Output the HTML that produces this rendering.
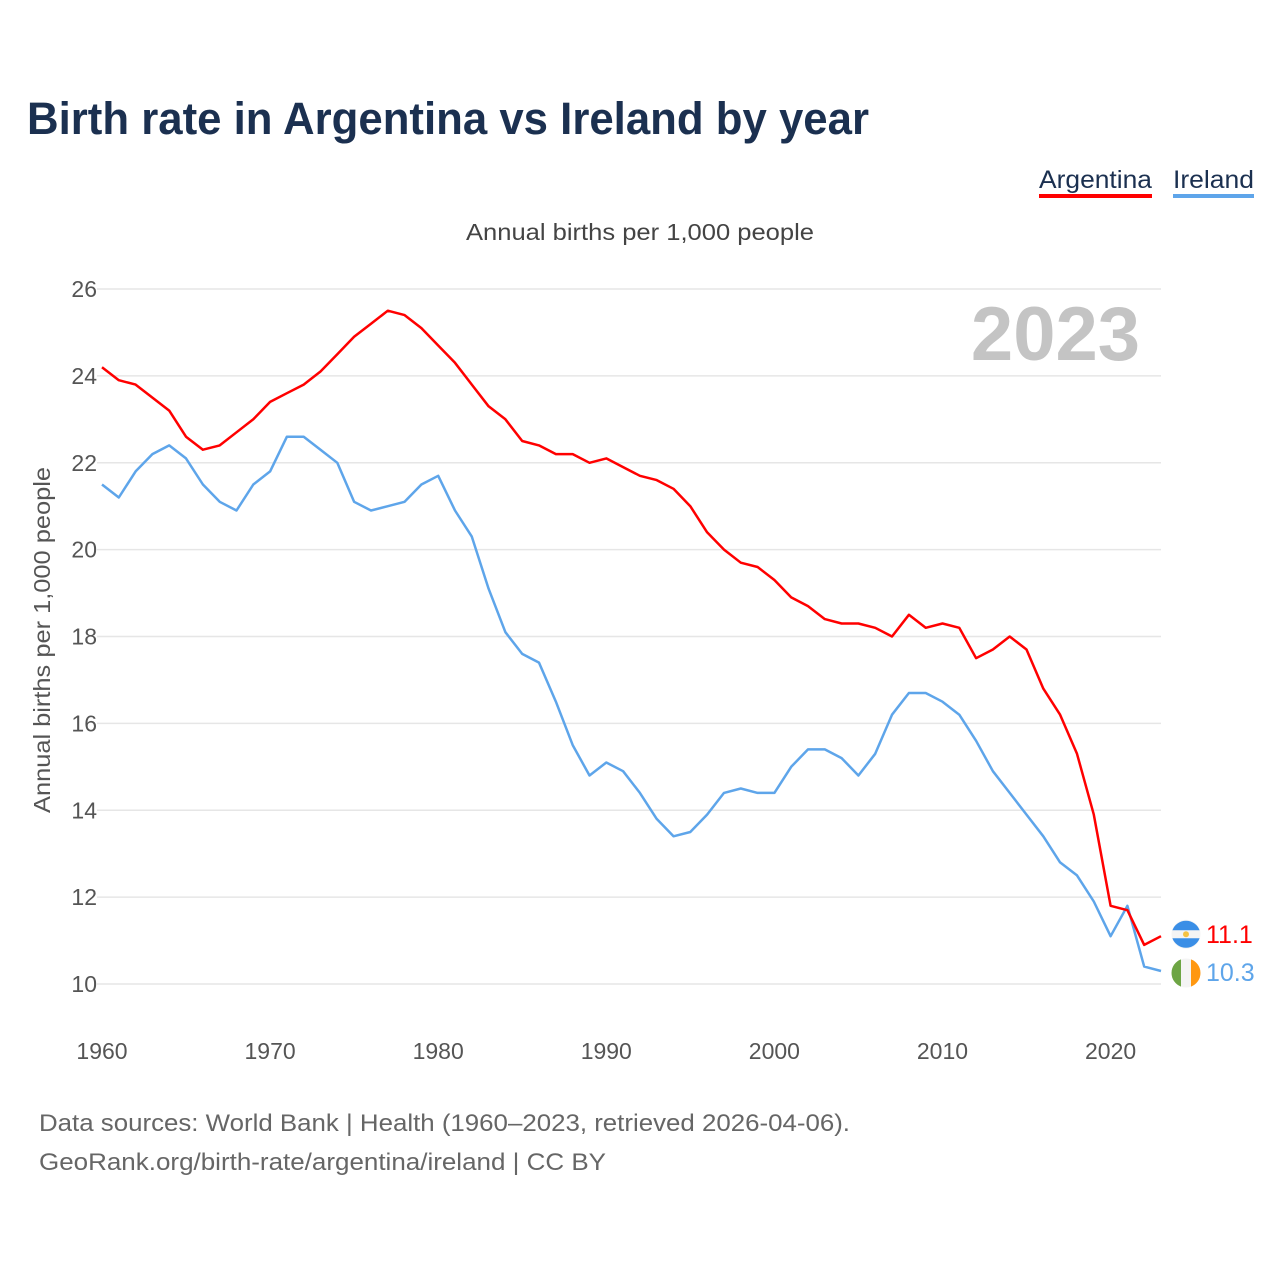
<!DOCTYPE html>
<html><head><meta charset="utf-8"><style>
body{margin:0;background:#fff;font-family:"Liberation Sans",sans-serif;}
#wrap{position:relative;width:1280px;height:1280px;overflow:hidden;}
</style></head><body>
<div id="wrap">
<svg id="chart" width="1280" height="1280"></svg>
</div>
<script>
const years = [];
for (let y = 1960; y <= 2023; y++) years.push(y);
const argentina = [24.2,23.9,23.8,23.5,23.2,22.6,22.3,22.4,22.7,23.0,23.4,23.6,23.8,24.1,24.5,24.9,25.2,25.5,25.4,25.1,24.7,24.3,23.8,23.3,23.0,22.5,22.4,22.2,22.2,22.0,22.1,21.9,21.7,21.6,21.4,21.0,20.4,20.0,19.7,19.6,19.3,18.9,18.7,18.4,18.3,18.3,18.2,18.0,18.5,18.2,18.3,18.2,17.5,17.7,18.0,17.7,16.8,16.2,15.3,13.9,11.8,11.7,10.9,11.1];
const ireland = [21.5,21.2,21.8,22.2,22.4,22.1,21.5,21.1,20.9,21.5,21.8,22.6,22.6,22.3,22.0,21.1,20.9,21.0,21.1,21.5,21.7,20.9,20.3,19.1,18.1,17.6,17.4,16.5,15.5,14.8,15.1,14.9,14.4,13.8,13.4,13.5,13.9,14.4,14.5,14.4,14.4,15.0,15.4,15.4,15.2,14.8,15.3,16.2,16.7,16.7,16.5,16.2,15.6,14.9,14.4,13.9,13.4,12.8,12.5,11.9,11.1,11.8,10.4,10.3];
const yTicks = [10,12,14,16,18,20,22,24,26];
const xTicks = [1960,1970,1980,1990,2000,2010,2020];

const NS = "http://www.w3.org/2000/svg";
const svg = document.getElementById('chart');
const X = y => 102 + (y - 1960) * (1161 - 102) / 63;
const Y = v => 984 - (v - 10) * (984 - 289) / 16;
function mk(tag, attrs, text){
  const e = document.createElementNS(NS, tag);
  for (const k in attrs) e.setAttribute(k, attrs[k]);
  if (text !== undefined) e.textContent = text;
  svg.appendChild(e);
  return e;
}
let t;
t = mk('text',{x:27,y:134,'font-size':45,'font-weight':'bold',fill:'#1b3050',textLength:842,lengthAdjust:'spacingAndGlyphs'},'Birth rate in Argentina vs Ireland by year');



t = mk('text',{x:1039,y:188,'font-size':25,fill:'#1b3050',textLength:113,lengthAdjust:'spacingAndGlyphs'},'Argentina');


t = mk('rect',{x:1039,y:194,width:113,height:4,fill:'#ff0000'});


t = mk('text',{x:1173,y:188,'font-size':25,fill:'#1b3050',textLength:81,lengthAdjust:'spacingAndGlyphs'},'Ireland');


t = mk('rect',{x:1173,y:194,width:81,height:4,fill:'#5ea5ea'});



t = mk('text',{x:466,y:240,'font-size':23,fill:'#444',textLength:348,lengthAdjust:'spacingAndGlyphs'},'Annual births per 1,000 people');



yTicks.forEach(v=>{
  const g = mk('line',{x1:97,x2:1161,y1:Y(v),y2:Y(v),stroke:'#e6e6e6','stroke-width':1.5});
  
  
  const l = mk('text',{x:97,y:Y(v)+8,'font-size':23,fill:'#555','text-anchor':'end'},String(v));
  
  
});
xTicks.forEach(v=>{
  const l = mk('text',{x:X(v),y:1059,'font-size':23,fill:'#555','text-anchor':'middle'},String(v));
  
  
});
t = mk('text',{x:-173,y:0,'font-size':23,fill:'#555',transform:'translate(50,640) rotate(-90)',textLength:346,lengthAdjust:'spacingAndGlyphs'},'Annual births per 1,000 people');



t = mk('text',{x:1140,y:360,'font-size':76,'font-weight':'bold',fill:'#c4c4c4','text-anchor':'end'},'2023');



function line(vals,color,name){
  const d = vals.map((v,i)=>(i?'L':'M')+X(years[i]).toFixed(1)+','+Y(v).toFixed(1)).join('');
  const p = mk('path',{d:d,fill:'none',stroke:color,'stroke-width':2.5,'stroke-linejoin':'round'});
  
  
}
line(ireland,'#5ea5ea','line-ireland');
line(argentina,'#ff0000','line-argentina');

const la = argentina[argentina.length-1], li = ireland[ireland.length-1];
const ya = Y(la)-2, yi = Y(li)+2;
t = mk('circle',{cx:1186,cy:ya,r:14.5,fill:'#f4f4f4'});


mk('path',{d:`M1172.4,${ya-4} A14.5,14.5 0 0 1 1199.6,${ya-4} Z`,fill:'#3a8ee6'});
mk('path',{d:`M1172.4,${ya+4} A14.5,14.5 0 0 0 1199.6,${ya+4} Z`,fill:'#3a8ee6'});
mk('circle',{cx:1186,cy:ya,r:3,fill:'#f5c242'});
t = mk('circle',{cx:1186,cy:yi,r:14.5,fill:'#f4f4f4'});


mk('path',{d:`M1181,${yi-13.6} A14.5,14.5 0 0 0 1181,${yi+13.6} Z`,fill:'#6da544'});
mk('path',{d:`M1191,${yi-13.6} A14.5,14.5 0 0 1 1191,${yi+13.6} Z`,fill:'#ff9811'});
t = mk('text',{x:1206,y:ya+9,'font-size':25,fill:'#ff0000'},la.toFixed(1));


t = mk('text',{x:1206,y:yi+8,'font-size':25,fill:'#5ea5ea'},li.toFixed(1));



t = mk('text',{x:39,y:1131,'font-size':24,fill:'#666',textLength:811,lengthAdjust:'spacingAndGlyphs'},'Data sources: World Bank | Health (1960–2023, retrieved 2026-04-06).');


t = mk('text',{x:39,y:1170,'font-size':24,fill:'#666',textLength:567,lengthAdjust:'spacingAndGlyphs'},'GeoRank.org/birth-rate/argentina/ireland | CC BY');


</script>
</body></html>
